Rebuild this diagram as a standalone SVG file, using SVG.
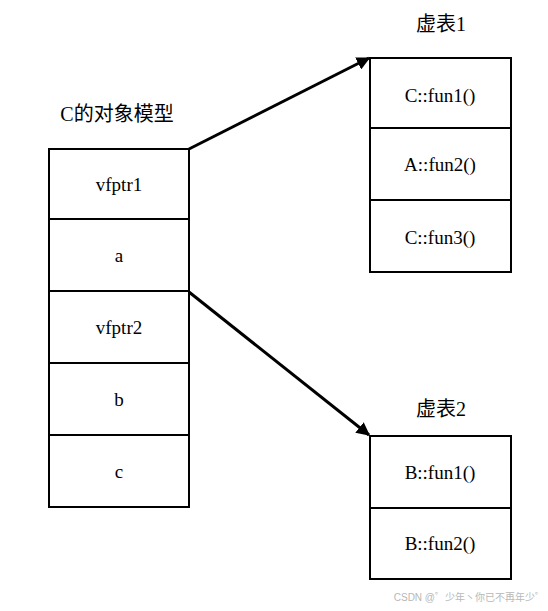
<svg xmlns="http://www.w3.org/2000/svg" width="548" height="611" viewBox="0 0 548 611">
<style>
.box{fill:#fff;stroke:#000;stroke-width:2}
.t{font-family:"Liberation Serif","Times New Roman",serif;font-size:19px;fill:#000;text-anchor:middle;dominant-baseline:central}
.h{font-family:"Liberation Serif","Noto Sans CJK SC",serif;font-size:20px;fill:#000;text-anchor:middle;dominant-baseline:central}
.conn{stroke:#000;stroke-width:3;fill:none}
</style>
<defs>
<marker id="ah" viewBox="0 0 10 10" refX="9" refY="5" markerWidth="4.5" markerHeight="4.5" orient="auto" markerUnits="strokeWidth">
<path d="M0,0 L10,5 L0,10 z" fill="#000"/>
</marker>
</defs>
<rect width="548" height="611" fill="#fff"/>
<g id="obj">
<text class="h" x="117" y="114">C的对象模型</text>
<rect class="box" x="49" y="149" width="140" height="70"/>
<text class="t" x="119" y="184">vfptr1</text>
<rect class="box" x="49" y="219" width="140" height="72"/>
<text class="t" x="119" y="255">a</text>
<rect class="box" x="49" y="291" width="140" height="72"/>
<text class="t" x="119" y="327">vfptr2</text>
<rect class="box" x="49" y="363" width="140" height="72"/>
<text class="t" x="119" y="399">b</text>
<rect class="box" x="49" y="435" width="140" height="72"/>
<text class="t" x="119" y="471">c</text>
</g>
<g id="vt1">
<text class="h" x="441" y="24">虚表1</text>
<rect class="box" x="370" y="58" width="141" height="70"/>
<text class="t" x="440" y="95">C::fun1()</text>
<rect class="box" x="370" y="128" width="141" height="72"/>
<text class="t" x="440" y="164">A::fun2()</text>
<rect class="box" x="370" y="200" width="141" height="72"/>
<text class="t" x="440" y="237">C::fun3()</text>
</g>
<g id="vt2">
<text class="h" x="441" y="409">虚表2</text>
<rect class="box" x="370" y="436" width="141" height="72"/>
<text class="t" x="440" y="472">B::fun1()</text>
<rect class="box" x="370" y="508" width="141" height="71"/>
<text class="t" x="440" y="543">B::fun2()</text>
</g>
<g id="connectors">
<line class="conn" x1="189" y1="149" x2="369" y2="58" marker-end="url(#ah)"/>
<line class="conn" x1="189" y1="292" x2="369" y2="435" marker-end="url(#ah)"/>
</g>
<text x="545" y="601" style="font-family:'Liberation Sans','Noto Sans CJK SC',sans-serif;font-size:10px;fill:#b8b8b8;text-anchor:end">CSDN @゜少年丶你已不再年少゜</text>
</svg>
